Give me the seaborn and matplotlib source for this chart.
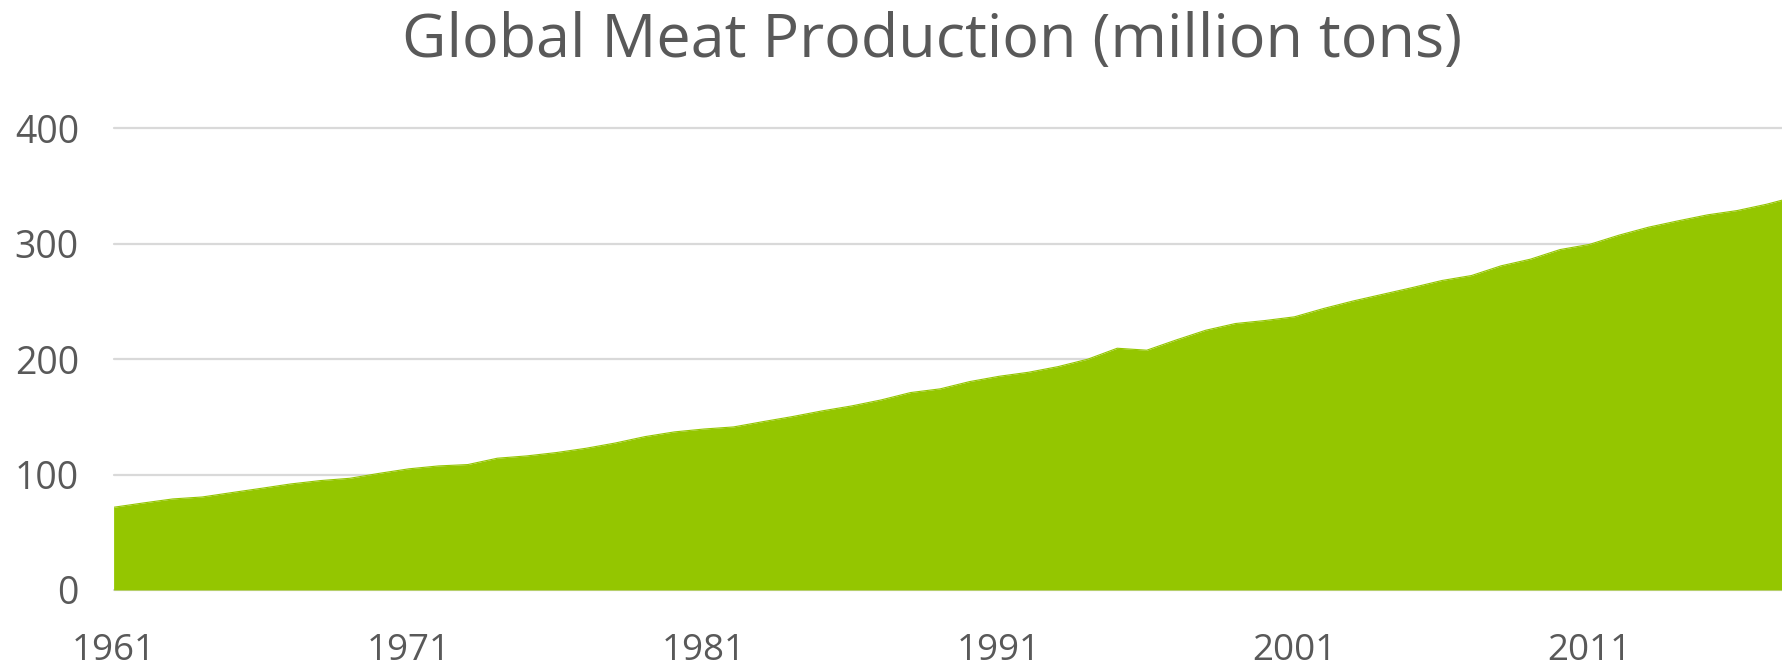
import matplotlib
matplotlib.use("Agg")
import matplotlib.pyplot as plt
import seaborn as sns
import numpy as np
import pandas as pd

years = list(range(1961, 2019))
production = [
    71.7, 75.4, 78.9, 80.6, 84.4, 88.1, 91.9, 94.8, 96.8, 101.1,
    105.0, 107.5, 108.7, 114.2, 116.2, 119.1, 122.8, 127.4, 132.9, 137.0,
    139.5, 141.3, 145.9, 150.3, 155.2, 159.5, 164.7, 171.1, 174.3, 180.6,
    185.2, 188.7, 193.6, 200.0, 209.5, 207.8, 216.7, 225.1, 230.9, 233.5,
    236.7, 244.0, 250.5, 256.3, 262.1, 268.2, 272.5, 280.9, 286.7, 295.0,
    299.5, 307.5, 314.4, 319.9, 325.1, 328.8, 334.3, 341.0,
]
x_ticks = [1961, 1971, 1981, 1991, 2001, 2011]
y_ticks = [0, 100, 200, 300, 400]
title = "Global Meat Production (million tons)"

df = pd.DataFrame({"year": years, "production": production})

sns.set_theme(style="white")
plt.rcParams["font.family"] = ["Open Sans", "DejaVu Sans"]

W, H = 1782, 666
fig = plt.figure(figsize=(W / 100, H / 100), dpi=100)
left = 113.6 / W
bottom = (H - 590) / H
height = (590 - 128.4) / H
ax = fig.add_axes([left, bottom, 1 - left, height])

green = "#94C600"
text_color = "#595959"
grid_color = "#D9D9D9"

sns.lineplot(data=df, x="year", y="production", ax=ax, color=green, linewidth=0.8, zorder=3)
ax.fill_between(df["year"], 0, df["production"], color=green, linewidth=0, zorder=2)

ax.set_xlim(1961, 2017.52)
ax.set_ylim(0, 400)
ax.set_xticks(x_ticks)
ax.set_yticks(y_ticks)
ax.set_xlabel("")
ax.set_ylabel("")

for y in y_ticks:
    ax.axhline(y, color=grid_color, linewidth=1.6, zorder=1, clip_on=False)

for s in ax.spines.values():
    s.set_visible(False)

ax.tick_params(axis="y", length=0, pad=25, labelsize=27, labelcolor=text_color)
ax.tick_params(axis="x", length=0, pad=31, labelsize=26.5, labelcolor=text_color)

fig.text(932 / W, 1 - 41 / H, title, ha="center", va="center", fontsize=44, color=text_color)

fig.savefig("out.png", dpi=100)
